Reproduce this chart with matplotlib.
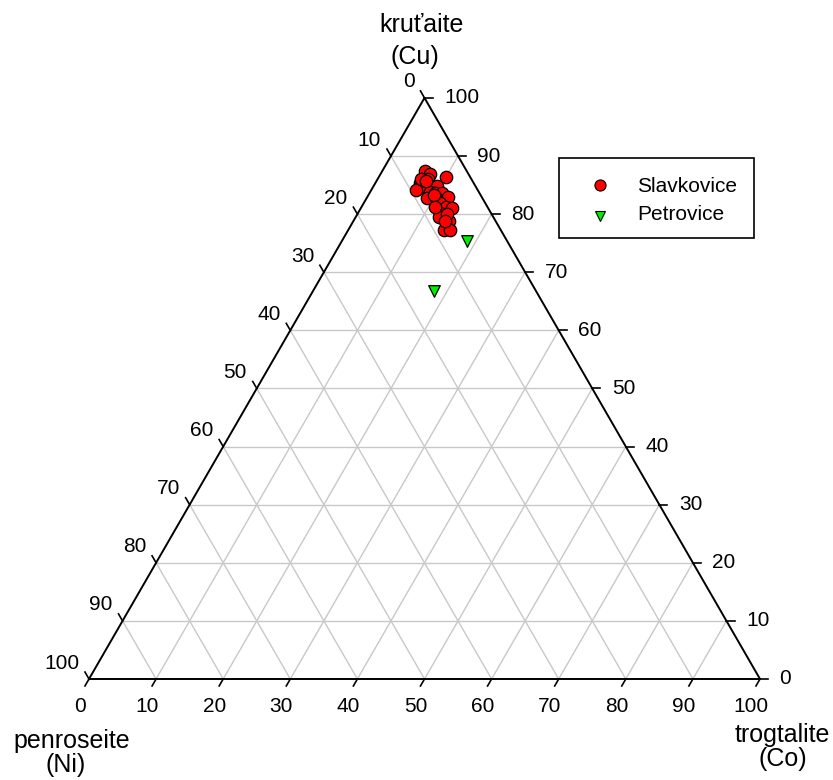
#!/usr/bin/env python3

import numpy as np
import matplotlib
matplotlib.use("Agg")
import matplotlib.pyplot as plt
from matplotlib.patches import Rectangle
from matplotlib.lines import Line2D

plt.rcParams["font.family"] = ["Liberation Sans", "DejaVu Sans"]

# ------------------------------------------------------------
# DATA  (mol. %: Cu = kruťaite, Co = trogtalite, Ni = rest)
# ------------------------------------------------------------

slav_cu = [87.4, 86.9, 86.4, 86.1, 85.4, 84.9, 84.9, 84.9, 84.5, 84.2, 83.8, 83.6,
           83.6, 83.0, 82.8, 82.8, 81.9, 81.2, 81.1, 80.2, 79.5, 78.8, 77.3, 77.3,
           86.1, 85.7, 83.3, 81.2, 80.0, 78.8]
slav_co = [6.4, 7.4, 10.0, 7.4, 6.6, 7.4, 8.7, 9.4, 7.0, 6.6, 8.9, 9.8,
           10.8, 12.0, 9.0, 10.3, 11.3, 12.6, 13.6, 12.2, 12.4, 14.3, 14.3, 15.2,
           6.5, 7.4, 9.8, 11.0, 13.4, 13.7]

petr_cu = [75.4, 66.8]
petr_co = [18.6, 18.0]

ticks = [0, 10, 20, 30, 40, 50, 60, 70, 80, 90, 100]

H = np.sqrt(3) / 2
TICK = 1.2


def to_xy(cu, co):
    cu = np.asarray(cu, dtype=float)
    co = np.asarray(co, dtype=float)
    return co + cu / 2, cu * H


# ------------------------------------------------------------
# FIGURE
# ------------------------------------------------------------

W, HT = 833, 780
scale = 6.71
fig = plt.figure(figsize=(W / 100, HT / 100), dpi=100)
ax = fig.add_axes([0, 0, 1, 1])
ax.set_xlim(-89 / scale, (W - 89) / scale)
ax.set_ylim(-(HT - 679) / scale, 679 / scale)
ax.axis("off")

grid = dict(color="#c8c8c8", lw=1.0, zorder=1)
for v in ticks[1:-1]:
    # constant Cu (horizontal)
    ax.plot([v / 2, 100 - v / 2], [v * H, v * H], **grid)
    # constant Co (parallel to left edge)
    ax.plot([v, v + (100 - v) / 2], [0, (100 - v) * H], **grid)
    # constant Ni (parallel to right edge)
    ax.plot([100 - v, (100 - v) / 2], [0, (100 - v) * H], **grid)

# triangle
ax.plot([0, 100, 50, 0], [0, 0, 50 * 2 * H, 0], color="black", lw=1.4, zorder=2)

# ticks and tick labels
for v in ticks:
    # bottom axis: Co
    ax.plot([v, v - 0.5 * TICK], [0, -H * TICK], color="black", lw=1.2, zorder=2)
    ax.annotate(str(v), (v, 0), xytext=(-6.5, -20), textcoords="offset points",
                ha="center", va="center", fontsize=15)
    # right axis: Cu
    xr, yr = 100 - v / 2, v * H
    ax.plot([xr, xr + TICK], [yr, yr], color="black", lw=1.2, zorder=2)
    ax.annotate(str(v), (xr, yr), xytext=(14, 0), textcoords="offset points",
                ha="left", va="center", fontsize=15)
    # left axis: Ni
    xl, yl = (100 - v) / 2, (100 - v) * H
    ax.plot([xl, xl - 0.5 * TICK], [yl, yl + H * TICK], color="black", lw=1.2, zorder=2)
    ax.annotate(str(v), (xl, yl), xytext=(-7, 11.5), textcoords="offset points",
                ha="right", va="center", fontsize=15)

# points
x, y = to_xy(slav_cu, slav_co)
ax.scatter(x, y, s=80, c="#ff0000", edgecolors="black", linewidths=0.9, zorder=4)
x, y = to_xy(petr_cu, petr_co)
ax.scatter(x, y, s=70, c="#00ee00", marker="v", edgecolors="black", linewidths=0.9, zorder=4)


# ------------------------------------------------------------
# TEXTS (pixel positions from top-left)
# ------------------------------------------------------------

def fx(px):
    return px / W


def fy(py):
    return 1 - py / HT


fig.text(fx(422), fy(25), "kruťaite", ha="center", va="center", fontsize=18)
fig.text(fx(415), fy(57), "(Cu)", ha="center", va="center", fontsize=18)
fig.text(fx(72), fy(741), "penroseite", ha="center", va="center", fontsize=18)
fig.text(fx(66), fy(765), "(Ni)", ha="center", va="center", fontsize=18)
fig.text(fx(782), fy(735), "trogtalite", ha="center", va="center", fontsize=18)
fig.text(fx(783), fy(759), "(Co)", ha="center", va="center", fontsize=18)

# legend box
fig.patches.append(Rectangle((fx(559), fy(238)), (754 - 559) / W, (238 - 158) / HT,
                             transform=fig.transFigure, fill=False,
                             edgecolor="black", lw=1.2))
fig.add_artist(Line2D([fx(600)], [fy(185)], marker="o", markersize=8,
                      markerfacecolor="#ff0000", markeredgecolor="black",
                      markeredgewidth=0.8, transform=fig.transFigure))
fig.add_artist(Line2D([fx(600)], [fy(216)], marker="v", markersize=7,
                      markerfacecolor="#00ee00", markeredgecolor="black",
                      markeredgewidth=0.8, transform=fig.transFigure))
fig.text(fx(637), fy(186), "Slavkovice", ha="left", va="center", fontsize=15)
fig.text(fx(637), fy(214), "Petrovice", ha="left", va="center", fontsize=15)

fig.savefig("out.png", dpi=100)
